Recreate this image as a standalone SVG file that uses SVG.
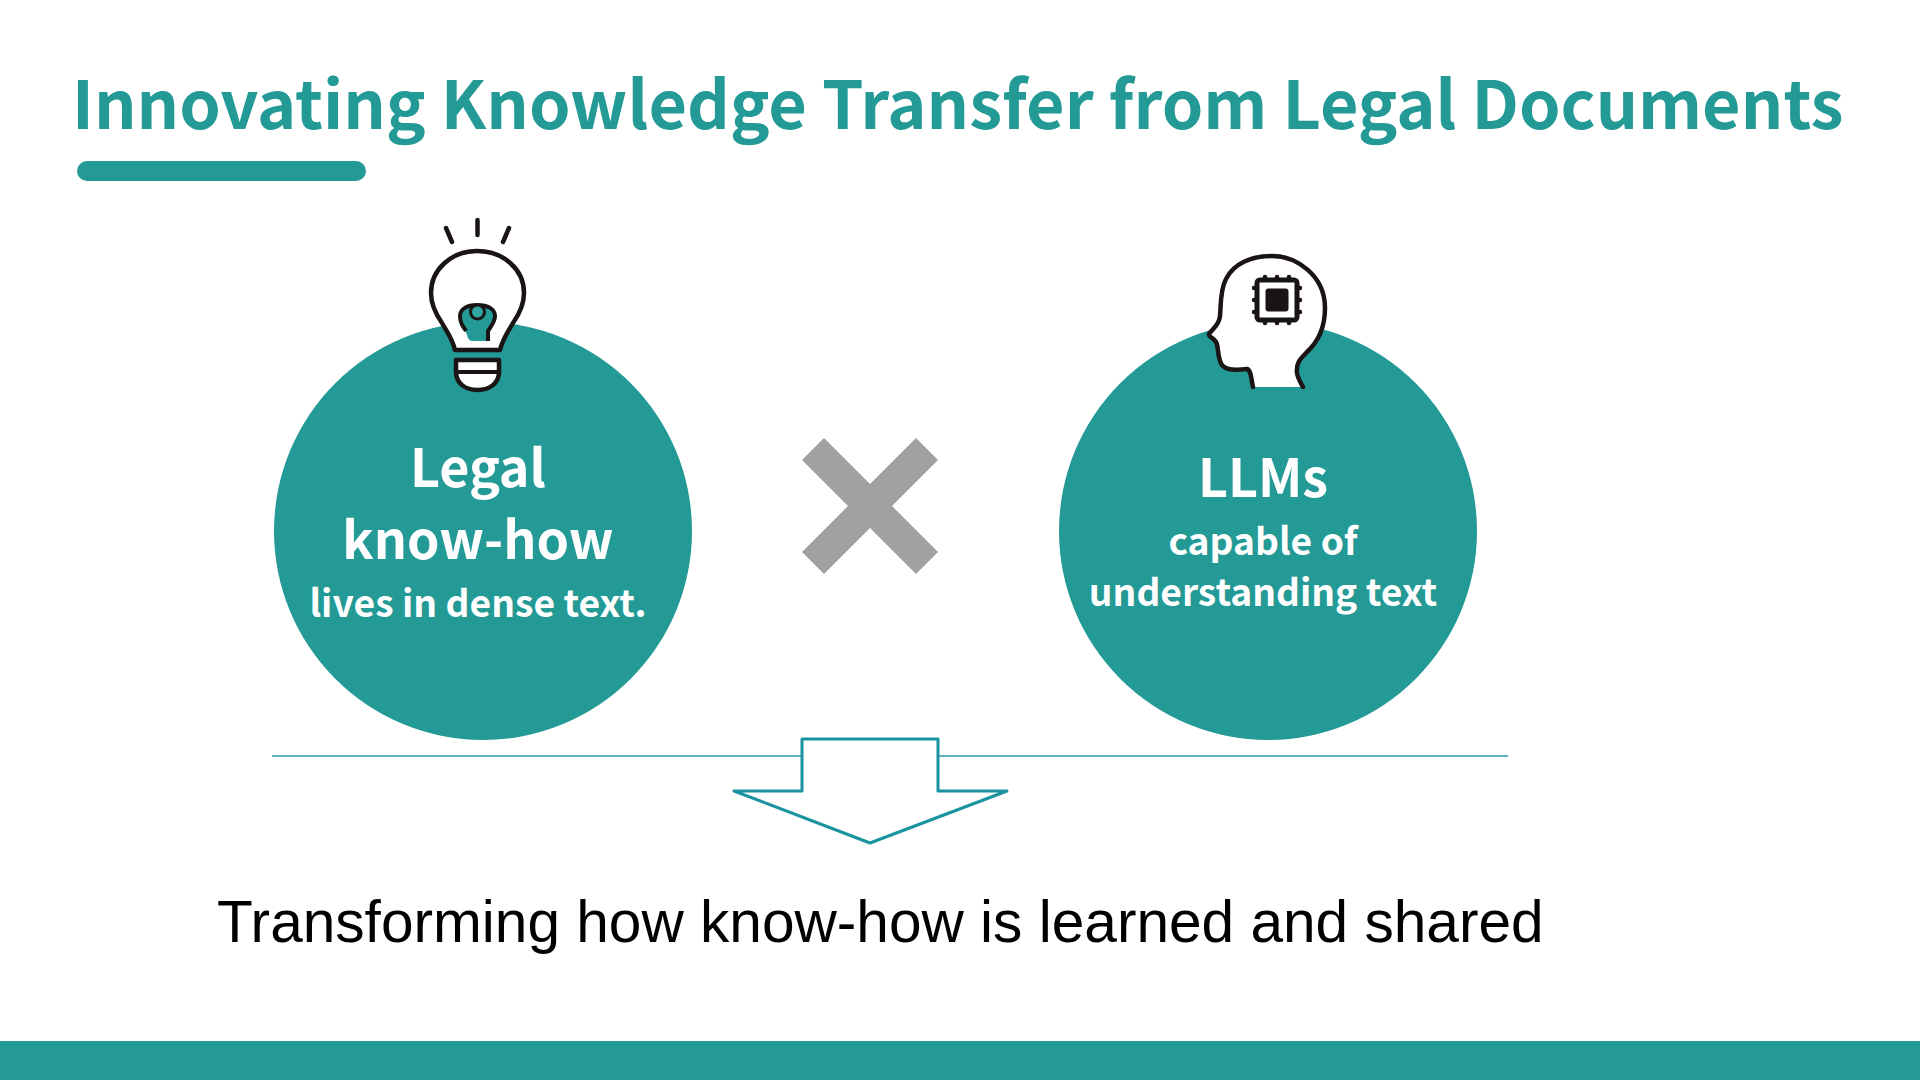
<svg xmlns="http://www.w3.org/2000/svg" width="1920" height="1080" viewBox="0 0 1920 1080">
<style>
.t{font-family:"Noto Sans CJK JP","Noto Sans",sans-serif;font-weight:700}
.w{fill:#fff;text-anchor:middle}
.teal{fill:#239A96}
.ink{fill:#fff;stroke:#1a1414;stroke-width:4.500;stroke-linecap:round;stroke-linejoin:round}
</style>
<rect width="1920" height="1080" fill="#fff"/>
<text class="t teal" x="72" y="129" font-size="66.500">Innovating Knowledge Transfer from Legal Documents</text>
<rect class="teal" x="77" y="161" width="289" height="20" rx="10"/>
<rect class="teal" x="0" y="1041" width="1920" height="39"/>
<g id="connectors">
<line x1="272" y1="756" x2="1508" y2="756" stroke="#2a9aa3" stroke-width="1.500"/>
<path d="M802 739H938V791H1007L870 843L734 791H802Z" fill="#fff" stroke="#1A93A0" stroke-width="3" stroke-linejoin="round"/>
</g>
<g id="node-legal">
<circle class="teal" cx="483" cy="531" r="209"/>
<path class="ink" d="M446 228L452 242M477.500 220V235M509 228L503 242" fill="none" stroke-width="4"/>
<path class="ink" d="M455 350C452 338 447 332 442 323C435 313 431 304 431 293C431 269 452 251 477 251C503 251 524 269 524 293C524 304 520 313 513 323C508 332 503 338 500 350Z" stroke-linecap="butt"/>
<path fill="#239A96" d="M465 330C462 325 460 322 460 316C460 309 467 305 477 305C488 305 495 309 495 316C495 322 491 326 488 331V341H473Q468 341 467 335Z"/>
<path d="M466 331C462 325 460 322 460 316C460 309 467 305 477 305C488 305 495 309 495 316C495 322 491 326 488 331V341" fill="none" stroke="#1a1414" stroke-width="4"/>
<circle cx="477.500" cy="312" r="7" fill="#2FA5A0" stroke="#1a1414" stroke-width="3"/>
<path class="ink" d="M456 360H499V372C499 383 490 390 477.500 390C465 390 456 383 456 372Z"/>
<line x1="456" y1="372" x2="499" y2="372" stroke="#1a1414" stroke-width="4"/>
<text class="t w" x="478" y="487" font-size="52">Legal</text>
<text class="t w" x="478" y="559" font-size="52">know-how</text>
<text class="t w" x="478" y="617" font-size="37.200">lives in dense text.</text>
</g>
<g id="node-cross">
<path fill="#A0A0A0" d="M802 460L824 438L870 484L916 438L938 460L892 506L938 552L916 574L870 528L824 574L802 552L848 506Z"/>
</g>
<g id="node-llms">
<circle class="teal" cx="1268" cy="531" r="209"/>
<path class="ink" d="M1253 387C1251 378 1251 370 1247 369C1238 370 1226 371 1222 365C1217 358 1219 347 1216 342C1213 337 1208 337 1209 334C1212 329 1219 326 1220 316C1221 305 1220 290 1226 279C1234 263 1252 256 1272 256C1296 256 1325 275 1325 308C1325 325 1320 340 1307 352C1300 359 1296 363 1297 373C1298 379 1301 383 1303 387" stroke-width="5"/>
<rect x="1257" y="280" width="40" height="40" rx="3" fill="#fff" stroke="#1a1414" stroke-width="5"/>
<rect x="1265.500" y="288.500" width="23" height="23" rx="3" fill="#1a1414"/>
<path d="M1265 277V280M1277 277V280M1289 277V280M1265 320V323M1277 320V323M1289 320V323M1254 288H1257M1254 300H1257M1254 312H1257M1297 288H1300M1297 300H1300M1297 312H1300" stroke="#1a1414" stroke-width="4.500" stroke-linecap="round" fill="none"/>
<text class="t w" x="1263" y="497" font-size="52">LLMs</text>
<text class="t w" x="1263" y="555" font-size="37.200">capable of</text>
<text class="t w" x="1263" y="606" font-size="37.200">understanding text</text>
</g>
<text x="217" y="942" font-family="Liberation Sans,Arial,sans-serif" font-size="58.600" fill="#000">Transforming how know-how is learned and shared</text>
</svg>
